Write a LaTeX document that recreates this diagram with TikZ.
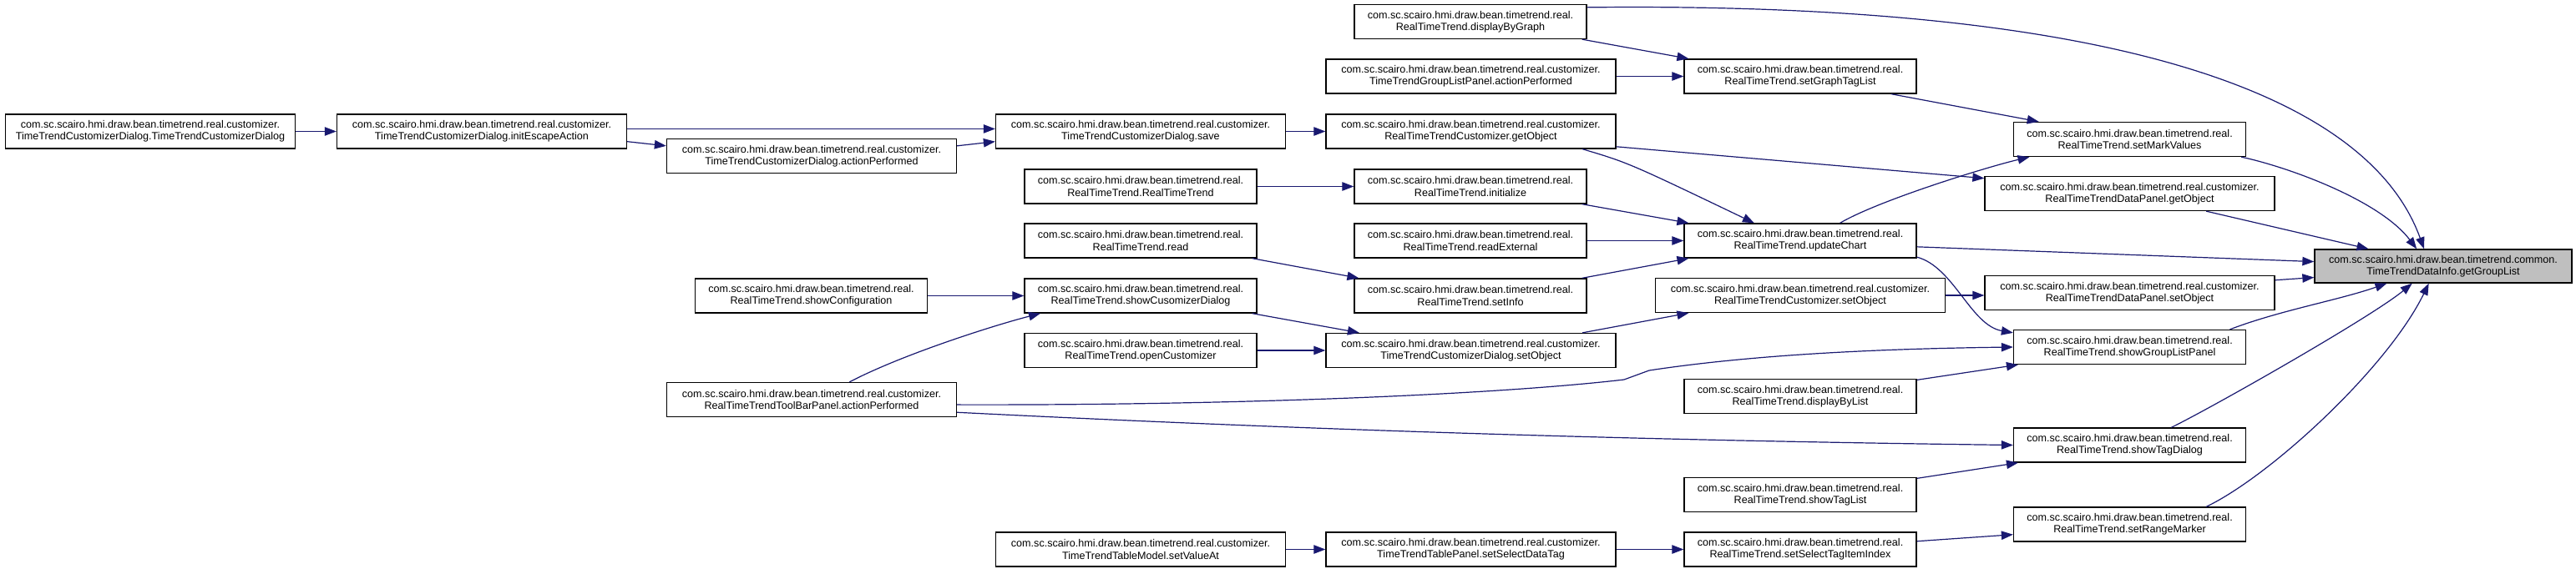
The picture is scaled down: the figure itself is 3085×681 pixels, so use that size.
\documentclass[tikz,border=0pt]{standalone}
\usepackage{fontspec}
\setmainfont{Liberation Sans}
\usetikzlibrary{arrows.meta}
\definecolor{edgec}{HTML}{191970}
\definecolor{hitc}{HTML}{BFBFBF}
\tikzset{
  fn/.style={rectangle, draw=black, line width=0.65pt, fill=white, minimum width=139pt,
    minimum height=20.5pt, inner sep=0pt, align=center, font=\fontsize{6.3}{7.15}\selectfont},
  fnc/.style={fn, minimum width=173.5pt},
  hit/.style={fn, fill=hitc, minimum width=154pt, minimum height=20pt},
  call/.style={-{Triangle[length=7pt, width=5.2pt]}, draw=edgec, line width=0.6pt},
}
\newcommand{\pkg}{com.sc.scairo.hmi.draw.bean.timetrend}
\newcommand{\rtt}[1]{\pkg.real.\\RealTimeTrend.#1}
\newcommand{\cust}[2]{\pkg.real.customizer.\\#1.#2}

\begin{document}
\begin{tikzpicture}[x=0.5pt, y=-0.5pt]
  \useasboundingbox (0,0) rectangle (3085,681);
  % column 0-3
  \node[fnc] (ctor)  at (180,157.5)  {\cust{TimeTrendCustomizerDialog}{TimeTrendCustomizerDialog}};
  \node[fnc] (esc)   at (577,157.5)  {\cust{TimeTrendCustomizerDialog}{initEscapeAction}};
  \node[fnc] (dlgact) at (972,187)   {\cust{TimeTrendCustomizerDialog}{actionPerformed}};
  \node[fn]  (cfg)   at (971.5,354.5) {\rtt{showConfiguration}};
  \node[fnc] (tbact) at (972,479)    {\cust{RealTimeTrendToolBarPanel}{actionPerformed}};
  \node[fnc] (save)  at (1366,157.5) {\cust{TimeTrendCustomizerDialog}{save}};
  \node[fn]  (rtt)   at (1366,223.5) {\rtt{RealTimeTrend}};
  \node[fn]  (rd)    at (1366,288.5) {\rtt{read}};
  \node[fn]  (scd)   at (1366,354.5) {\rtt{showCusomizerDialog}};
  \node[fn]  (opc)   at (1366,420)   {\rtt{openCustomizer}};
  \node[fnc] (sva)   at (1366,658.5) {\cust{TimeTrendTableModel}{setValueAt}};
  % column 4
  \node[fn]  (dbg)   at (1761,26)    {\rtt{displayByGraph}};
  \node[fnc] (glact) at (1761.5,91.5) {\cust{TimeTrendGroupListPanel}{actionPerformed}};
  \node[fnc] (cgo)   at (1761.5,157.5) {\cust{RealTimeTrendCustomizer}{getObject}};
  \node[fn]  (ini)   at (1761,223.5) {\rtt{initialize}};
  \node[fn]  (rdx)   at (1761,288.5) {\rtt{readExternal}};
  \node[fn]  (sinfo) at (1761,354.5) {\rtt{setInfo}};
  \node[fnc] (dso)   at (1761.5,420) {\cust{TimeTrendCustomizerDialog}{setObject}};
  \node[fnc] (ssdt)  at (1761.5,658.5) {\cust{TimeTrendTablePanel}{setSelectDataTag}};
  % column 5
  \node[fn]  (sgtl)  at (2156,91.5)  {\rtt{setGraphTagList}};
  \node[fn]  (upd)   at (2156,288.5) {\rtt{updateChart}};
  \node[fnc] (cso)   at (2156,354)   {\cust{RealTimeTrendCustomizer}{setObject}};
  \node[fn]  (dbl)   at (2156,475)   {\rtt{displayByList}};
  \node[fn]  (stl)   at (2156,593)   {\rtt{showTagList}};
  \node[fn]  (sti)   at (2156,658.5) {\rtt{setSelectTagItemIndex}};
  % column 6-7
  \node[fn]  (smv)   at (2550.5,167) {\rtt{setMarkValues}};
  \node[fnc] (pgo)   at (2550.5,232) {\cust{RealTimeTrendDataPanel}{getObject}};
  \node[fnc] (pso)   at (2550.5,351) {\cust{RealTimeTrendDataPanel}{setObject}};
  \node[fn]  (sglp)  at (2550.5,416) {\rtt{showGroupListPanel}};
  \node[fn]  (std)   at (2550.5,533.5) {\rtt{showTagDialog}};
  \node[fn]  (srm)   at (2550.5,628.5) {\rtt{setRangeMarker}};
  \node[hit] (gl)    at (2926,319)   {\pkg.common.\\TimeTrendDataInfo.getGroupList};
  % calls into getGroupList
  \draw[call] (dbg.7) .. controls (2700,0) and (2860,180) .. (gl.138);
  \draw[call] (smv.351) .. controls (2740,200) and (2850,240) .. (gl.147);
  \draw[call] (pgo.347) -- (gl.167);
  \draw[call] (upd.357) -- (gl.178);
  \draw[call] (pso.5) -- (gl.185);
  \draw[call] (sglp.10) .. controls (2730,372) and (2800,360) .. (gl.197);
  \draw[call] (std.23) .. controls (2650,488) and (2840,380) .. (gl.209);
  \draw[call] (srm.13) .. controls (2720,570) and (2860,440) .. (gl.230);
  % other calls
  \draw[call] (sgtl.349) -- (smv.169);
  \draw[call] (dbg.351) -- (sgtl.171);
  \draw[call] (glact.east) -- (sgtl.west);
  \draw[call] (cgo.354) -- (pgo.174);
  \draw[call] (cgo.351) .. controls (1950,195) .. (upd.159);
  \draw[call] (upd.24) .. controls (2250,240) and (2380,200) .. (smv.190);
  \draw[call] (ini.351) -- (upd.171);
  \draw[call] (rdx.east) -- (upd.west);
  \draw[call] (sinfo.9) -- (upd.189);
  \draw[call] (upd.352) .. controls (2340,320) and (2360,390) .. (sglp.173);
  \draw[call] (cso.east) -- (cso.east -| pso.west);
  \draw[call] (dso.9) -- (cso.189);
  \draw[call] (tbact.358) .. controls (1500,486) and (1800,472) .. (1945,455)
    -- (1975,444) .. controls (2100,425) and (2250,418) .. (sglp.west);
  \draw[call] (dbl.8) -- (sglp.189);
  \draw[call] (tbact.355) .. controls (1500,512) and (1900,527) .. (std.west);
  \draw[call] (stl.8) -- (std.189);
  \draw[call] (sti.4) -- (srm.185);
  \draw[call] (ssdt.east) -- (sti.west);
  \draw[call] (rd.351) -- (sinfo.171);
  \draw[call] (scd.351) -- (dso.171);
  \draw[call] (opc.east) -- (dso.west);
  \draw[call] (rtt.east) -- (ini.west);
  \draw[call] (save.east) -- (cgo.west);
  \draw[call] (esc.1) -- (save.179);
  \draw[call] (esc.356) -- (dlgact.176);
  \draw[call] (dlgact.4) -- (save.184);
  \draw[call] (ctor.east) -- (esc.west);
  \draw[call] (cfg.east) -- (scd.west);
  \draw[call] (tbact.25) .. controls (1080,425) and (1190,390) .. (scd.190);
  \draw[call] (sva.east) -- (ssdt.west);
\end{tikzpicture}
\end{document}
